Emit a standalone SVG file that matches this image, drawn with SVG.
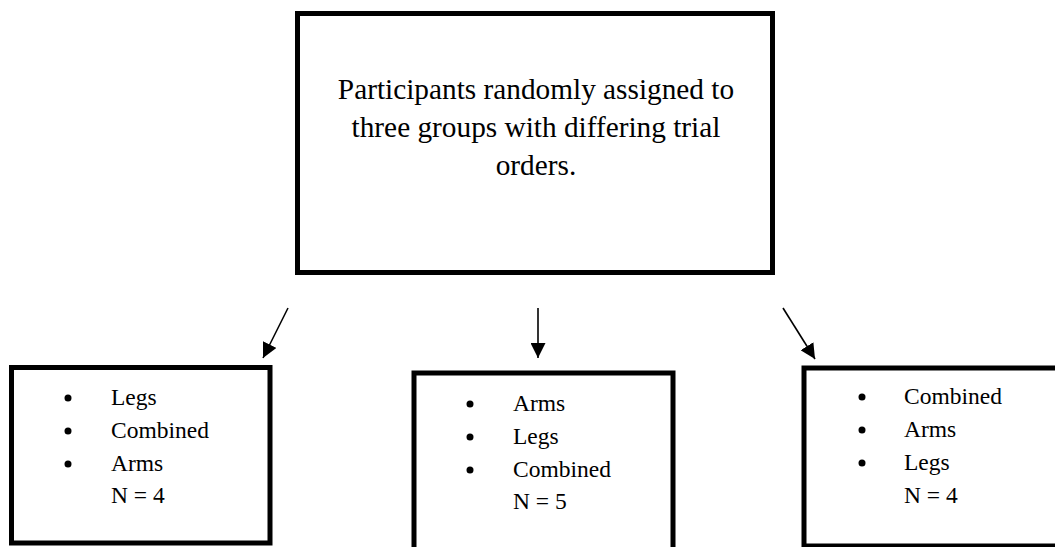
<svg xmlns="http://www.w3.org/2000/svg" width="1055" height="547" viewBox="0 0 1055 547">
<style>
.box{fill:#fff;stroke:#000;stroke-width:5}
.t{font-family:"Liberation Serif","Times New Roman",serif;fill:#000}
.top{font-size:29.3px;text-anchor:middle}
.item{font-size:23.5px}
.conn{stroke:#000;stroke-width:1.6;fill:none;marker-end:url(#ah)}
</style>
<defs>
<marker id="ah" viewBox="0 0 10 10" refX="10" refY="5" markerWidth="15" markerHeight="15" markerUnits="userSpaceOnUse" orient="auto">
<path d="M0,0 L10,5 L0,10 z" fill="#000"/>
</marker>
</defs>
<rect width="1055" height="547" fill="#fff"/>
<g id="connectors">
<line class="conn" x1="288" y1="308" x2="263" y2="358"/>
<line class="conn" x1="538" y1="308" x2="538" y2="358"/>
<line class="conn" x1="783" y1="308" x2="815" y2="359"/>
</g>
<g id="start">
<rect class="box" x="297.5" y="13.5" width="475" height="259"/>
<text class="t top" x="536" y="99">Participants randomly assigned to</text>
<text class="t top" x="536" y="137">three groups with differing trial</text>
<text class="t top" x="536" y="175">orders.</text>
</g>
<g id="group1">
<rect class="box" x="11.5" y="367.5" width="258.5" height="175.5"/>
<circle cx="68" cy="398" r="3.5"/><circle cx="68" cy="431" r="3.5"/><circle cx="68" cy="464" r="3.5"/>
<text class="t item" x="111" y="405">Legs</text>
<text class="t item" x="111" y="438">Combined</text>
<text class="t item" x="111" y="471">Arms</text>
<text class="t item" x="111" y="503">N = 4</text>
</g>
<g id="group2">
<rect class="box" x="414" y="373" width="259" height="190"/>
<circle cx="470" cy="404" r="3.5"/><circle cx="470" cy="437" r="3.5"/><circle cx="470" cy="470" r="3.5"/>
<text class="t item" x="513" y="411">Arms</text>
<text class="t item" x="513" y="444">Legs</text>
<text class="t item" x="513" y="477">Combined</text>
<text class="t item" x="513" y="509">N = 5</text>
</g>
<g id="group3">
<rect class="box" x="804" y="368" width="270" height="178"/>
<circle cx="862" cy="397" r="3.5"/><circle cx="862" cy="430" r="3.5"/><circle cx="862" cy="463" r="3.5"/>
<text class="t item" x="904" y="404">Combined</text>
<text class="t item" x="904" y="437">Arms</text>
<text class="t item" x="904" y="470">Legs</text>
<text class="t item" x="904" y="503">N = 4</text>
</g>
</svg>
